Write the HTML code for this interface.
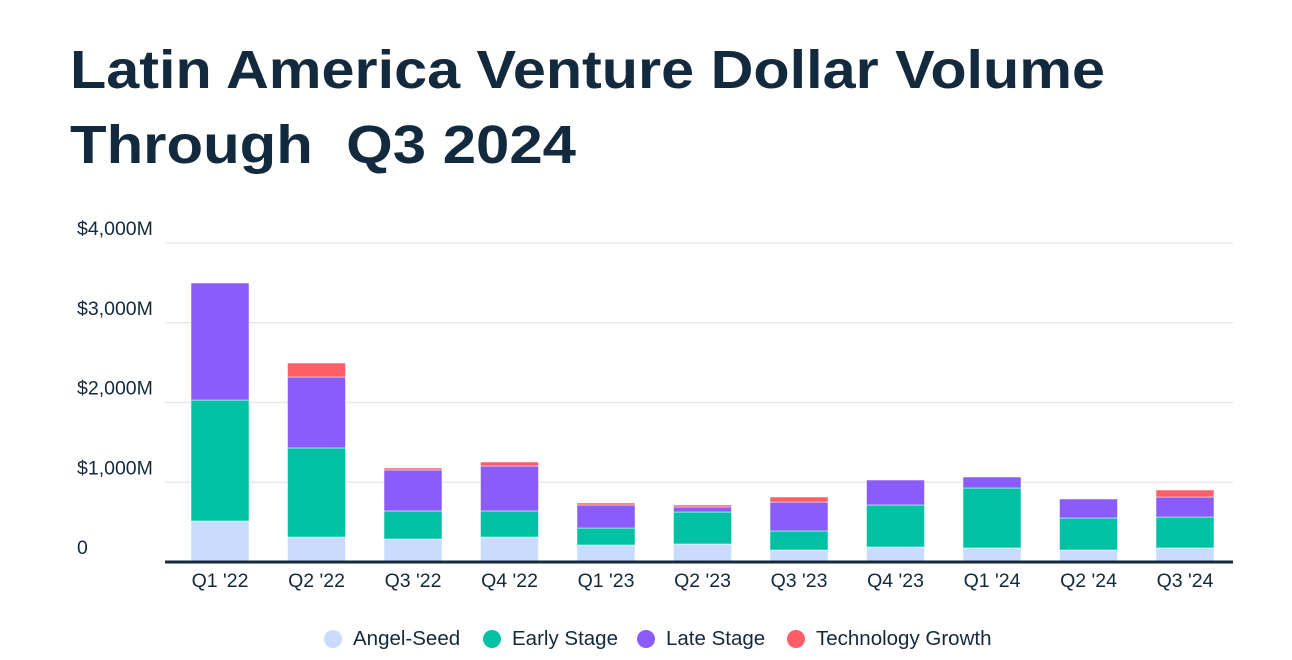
<!DOCTYPE html>
<html><head><meta charset="utf-8"><style>
html,body{margin:0;padding:0;background:#fff;width:1292px;height:660px;overflow:hidden}
svg{display:block}
text{font-family:"Liberation Sans",sans-serif}
</style></head><body>
<svg id="chart" width="1292" height="660">
<text x="70" y="88" font-size="54" font-weight="bold" fill="#13293d" textLength="1035" lengthAdjust="spacingAndGlyphs">Latin America Venture Dollar Volume</text>
<text x="70" y="163" font-size="54" font-weight="bold" fill="#13293d" textLength="506" lengthAdjust="spacingAndGlyphs" xml:space="preserve">Through  Q3 2024</text>
<g id="grid"></g><g id="bars"></g><g id="xlabels"></g><g id="legend"></g>
</svg>
<script>
const categories=["Q1 '22","Q2 '22","Q3 '22","Q4 '22","Q1 '23","Q2 '23","Q3 '23","Q4 '23","Q1 '24","Q2 '24","Q3 '24"];
const angelSeed=[514,313,288,313,213,226,150,188,176,150,176];
const earlyStage=[1517,1117,352,327,213,401,239,527,752,402,388];
const lateStage=[1467,890,514,564,289,63,363,313,138,238,251];
const techGrowth=[0,175,25,50,25,25,63,0,0,0,88];
const yTicks=[0,1000,2000,3000,4000];
const yTickLabels=["0","$1,000M","$2,000M","$3,000M","$4,000M"];
const seriesNames=["Angel-Seed","Early Stage","Late Stage","Technology Growth"];
const colors=["#c9dcfd","#00c1a3","#8a5cfa","#fd5e67"];
const NS="http://www.w3.org/2000/svg";
const y0=562,pxPer=319/4000,x0=220,step=96.5,bw=58;
const y=v=>y0-v*pxPer, x=i=>x0+i*step;
function mk(t,a,p){const e=document.createElementNS(NS,t);for(const k in a)e.setAttribute(k,a[k]);p.appendChild(e);return e;}
const grid=document.getElementById('grid');
yTicks.forEach((v,i)=>{
  if(v>0){const l=mk('line',{x1:165,x2:1233,y1:y(v),y2:y(v),stroke:'#e6e8eb','stroke-width':1.5},grid);
  
  }
  const t=mk('text',{x:77,y:y(v)-8,'font-size':19.5,fill:'#13293d'},grid);t.textContent=yTickLabels[i];
  
  
});
const bars=document.getElementById('bars');
const series=[angelSeed,earlyStage,lateStage,techGrowth];
categories.forEach((c,i)=>{
  let cum=0;
  series.forEach((s,k)=>{
    const v=s[i];if(v<=0)return;
    const r=mk('rect',{x:x(i)-bw/2,y:y(cum+v),width:bw,height:v*pxPer,fill:colors[k],stroke:'#fff','stroke-width':0.5},bars);
    
    
    cum+=v;
  });
  const t=mk('text',{x:x(i),y:587,'font-size':19.5,fill:'#13293d','text-anchor':'middle'},document.getElementById('xlabels'));
  t.textContent=c;
  
  
});
const ax=mk('line',{x1:165,x2:1233,y1:y0,y2:y0,stroke:'#13293d','stroke-width':3},bars);


const lg=document.getElementById('legend');
const lx=[333,492,646,796];
seriesNames.forEach((n,k)=>{
  const g=mk('g',{},lg);
  
  
  mk('circle',{cx:lx[k],cy:639,r:9,fill:colors[k]},g);
  const t=mk('text',{x:lx[k]+20,y:645,'font-size':20.5,fill:'#13293d'},g);t.textContent=n;
});
</script>
</body></html>
